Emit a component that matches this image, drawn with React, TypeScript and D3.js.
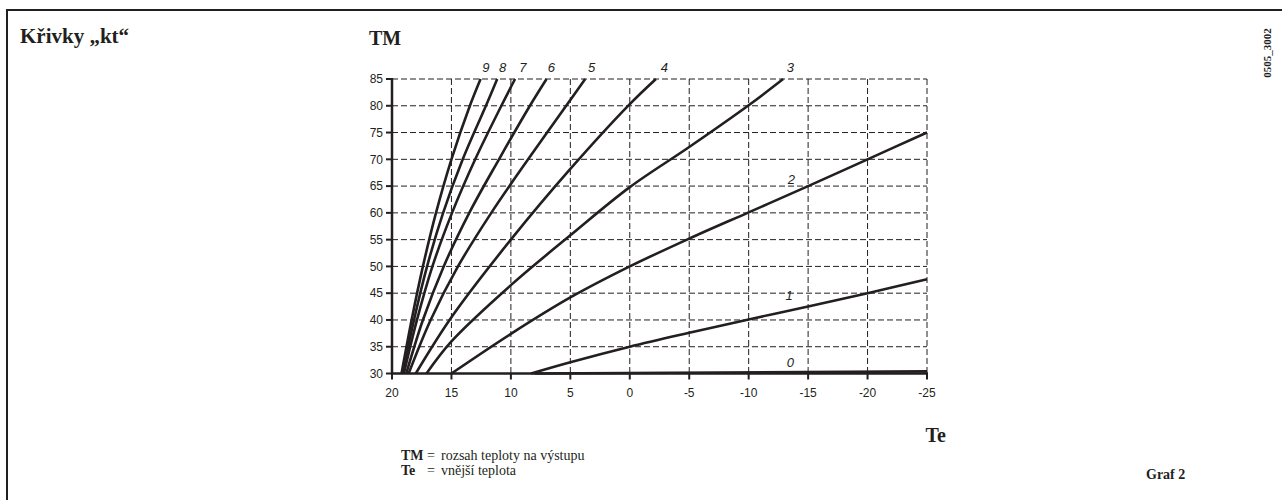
import * as d3 from "d3";

// x axis: outside temperature Te, y axis: flow temperature TM
const teTicks = [20, 15, 10, 5, 0, -5, -10, -15, -20, -25];
const tmTicks = [30, 35, 40, 45, 50, 55, 60, 65, 70, 75, 80, 85];

// curve points, [Te, TM]
const kt0 = [[8, 30], [-25, 30.4]];
const kt1 = [[8.3, 30], [5, 32.1], [0, 35], [-5, 37.6], [-10, 40.1], [-15, 42.5], [-20, 45], [-25, 47.6]];
const kt2 = [[15, 30], [10, 37.4], [5, 44.2], [0, 50], [-5, 55.2], [-10, 60.1], [-15, 65], [-20, 70], [-25, 75]];
const kt3 = [[17.1, 30], [15, 36], [10, 46.5], [5, 55.8], [0, 64.8], [-5, 72.3], [-10, 80.1], [-12.9, 85]];
const kt4 = [[18, 30], [15, 40.5], [10, 55], [5, 68.2], [0, 80.3], [-2.2, 85]];
const kt5 = [[18.6, 30], [16.75, 40], [14.45, 50], [11.65, 60], [8.55, 70], [5.35, 80], [3.75, 85]];
const kt6 = [[18.8, 30], [17.4, 40], [15.65, 50], [13.5, 60], [11.0, 70], [8.4, 80], [7.0, 85]];
const kt7 = [[19, 30], [17.9, 40], [16.6, 50], [14.95, 60], [13.0, 70], [10.8, 80], [9.65, 85]];
const kt8 = [[19.1, 30], [18.15, 40], [17.05, 50], [15.7, 60], [14.05, 70], [12.1, 80], [11.15, 85]];
const kt9 = [[19.2, 30], [18.35, 40], [17.4, 50], [16.3, 60], [15.0, 70], [13.45, 80], [12.55, 85]];

const curveLabels = ["0", "1", "2", "3", "4", "5", "6", "7", "8", "9"];
const labelTe = [-13.5, -13.4, -13.6, -13.5, -2.9, 3.2, 6.6, 9.0, 10.7, 12.1];
const labelTm = [32.1, 44.6, 66.3, 87.1, 87.1, 87.1, 87.1, 87.1, 87.1, 87.1];

const curves = [kt0, kt1, kt2, kt3, kt4, kt5, kt6, kt7, kt8, kt9];

const W = 1282;
const H = 500;
const ink = "#231f20";
const serif = "'Liberation Serif', 'Times New Roman', serif";
const sans = "'Liberation Sans', Arial, sans-serif";

export default function App() {
  const x = d3.scaleLinear().domain([20, -25]).range([392, 927]);
  const y = d3.scaleLinear().domain([30, 85]).range([373.5, 79]);

  const line = d3
    .line<number[]>()
    .x((d) => x(d[0]))
    .y((d) => y(d[1]))
    .curve(d3.curveCatmullRom.alpha(0.5));

  return (
    <svg
      width={W}
      height={H}
      style={{ position: "absolute", left: 0, top: 0, background: "#fff" }}
    >
      {/* frame */}
      <line x1={7} y1={10} x2={W} y2={10} stroke={ink} strokeWidth={2} />
      <line x1={7} y1={9} x2={7} y2={H} stroke={ink} strokeWidth={2} />

      <text x={20} y={43} fontFamily={serif} fontWeight="bold" fontSize={21} fill={ink}>
        Křivky „kt“
      </text>
      <text x={369} y={45} fontFamily={serif} fontWeight="bold" fontSize={20} fill={ink}>
        TM
      </text>
      <text
        transform="translate(1271,53) rotate(-90)"
        textAnchor="middle"
        fontFamily={serif}
        fontWeight="bold"
        fontSize={11}
        fill={ink}
      >
        0505_3002
      </text>

      {/* grid */}
      <g stroke={ink} strokeWidth={1} strokeDasharray="6,3" fill="none">
        {tmTicks.slice(1).map((t) => (
          <line key={"h" + t} x1={x(20)} x2={x(-25)} y1={y(t)} y2={y(t)} />
        ))}
        {teTicks.slice(1).map((t) => (
          <line key={"v" + t} x1={x(t)} x2={x(t)} y1={y(85)} y2={y(30)} />
        ))}
      </g>

      {/* axes */}
      <g stroke={ink} strokeWidth={2.5}>
        <line x1={x(20)} x2={x(20)} y1={y(85) - 1} y2={y(30) + 1} />
        <line x1={x(20) - 1} x2={x(-25) + 1} y1={y(30)} y2={y(30)} />
        {tmTicks.map((t) => (
          <line key={"yt" + t} x1={x(20) - 6} x2={x(20)} y1={y(t)} y2={y(t)} strokeWidth={2} />
        ))}
        {teTicks.map((t) => (
          <line key={"xt" + t} x1={x(t)} x2={x(t)} y1={y(30)} y2={y(30) + 6} strokeWidth={2} />
        ))}
      </g>
      <g fontFamily={sans} fontSize={12} fill={ink}>
        {tmTicks.map((t) => (
          <text key={"yl" + t} x={x(20) - 9} y={y(t)} dy="0.35em" textAnchor="end">
            {t}
          </text>
        ))}
        {teTicks.map((t) => (
          <text key={"xl" + t} x={x(t)} y={y(30) + 23} textAnchor="middle">
            {t}
          </text>
        ))}
      </g>

      {/* kt curves */}
      <g fill="none" stroke={ink} strokeWidth={2.6} strokeLinejoin="round">
        {curves.map((c, i) => (
          <path key={"c" + i} d={line(c) ?? ""} />
        ))}
      </g>
      <g fontFamily={sans} fontStyle="italic" fontSize={13} fill={ink} textAnchor="middle">
        {curveLabels.map((l, i) => (
          <text key={"l" + l} x={x(labelTe[i])} y={y(labelTm[i])} dy="0.35em">
            {l}
          </text>
        ))}
      </g>

      <text x={946} y={442} textAnchor="end" fontFamily={serif} fontWeight="bold" fontSize={20} fill={ink}>
        Te
      </text>

      {/* legend */}
      <g fontFamily={serif} fontSize={14} fill={ink}>
        <text x={401} y={460} fontWeight="bold">TM</text>
        <text x={427} y={460}>=</text>
        <text x={441} y={460}>rozsah teploty na výstupu</text>
        <text x={401} y={475} fontWeight="bold">Te</text>
        <text x={427} y={475}>=</text>
        <text x={441} y={475}>vnější teplota</text>
      </g>
      <text x={1146} y={479} fontFamily={serif} fontWeight="bold" fontSize={14} fill={ink}>
        Graf 2
      </text>
    </svg>
  );
}
